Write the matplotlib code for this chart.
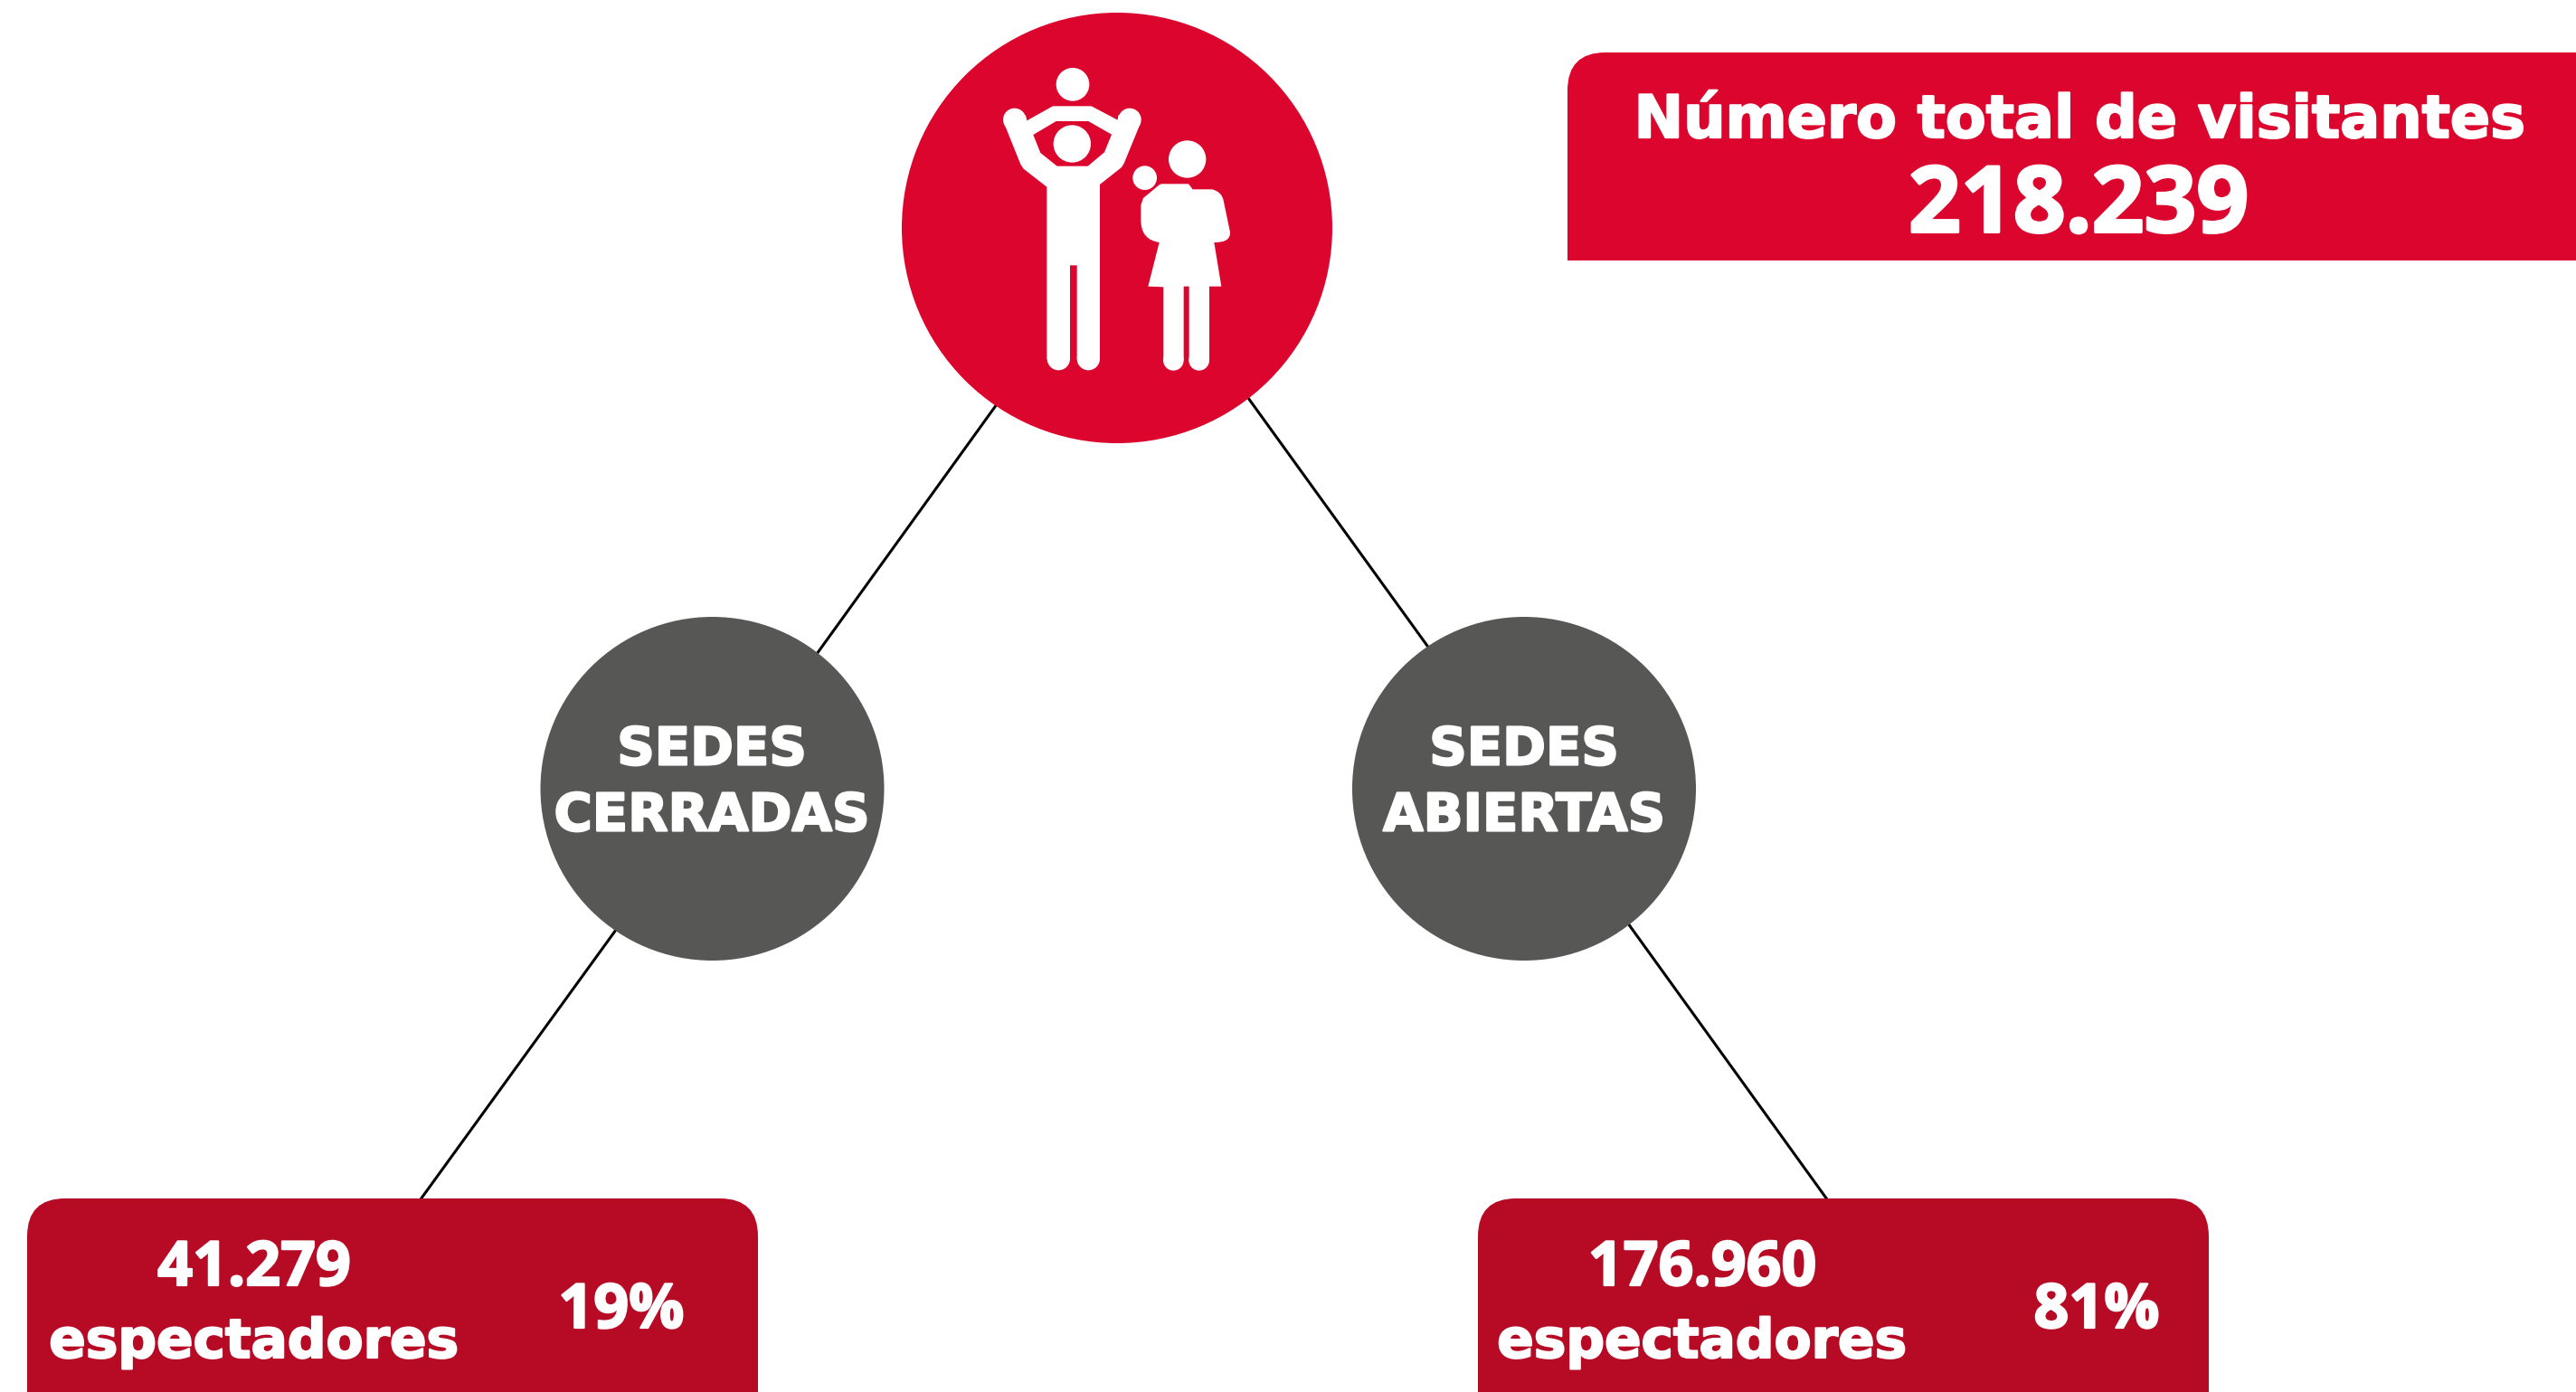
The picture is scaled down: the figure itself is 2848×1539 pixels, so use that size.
import matplotlib
matplotlib.use('Agg')
import matplotlib.pyplot as plt
import matplotlib.patheffects as pe
from matplotlib.patches import Circle, PathPatch, Polygon
from matplotlib.path import Path

RED = '#dc052d'
DARK_RED = '#b70a24'
GREY = '#575756'

header_label = 'Número total de visitantes'
header_value = '218.239'
closed_name = ['SEDES', 'CERRADAS']
open_name = ['SEDES', 'ABIERTAS']
closed_value = '41.279'
open_value = '176.960'
unit_label = 'espectadores'
closed_share = '19%'
open_share = '81%'

fig = plt.figure(figsize=(28.48, 15.39), dpi=100)
ax = fig.add_axes([0, 0, 1, 1])
ax.set_xlim(0, 2848)
ax.set_ylim(1539, 0)
ax.axis('off')


def box(x0, x1, y0, y1, r, color, right_round=True):
    # only the top corners are rounded
    verts = [(x0, y1), (x0, y0 + r), (x0, y0), (x0 + r, y0)]
    codes = [Path.MOVETO, Path.LINETO, Path.CURVE3, Path.CURVE3]
    if right_round:
        verts += [(x1 - r, y0), (x1, y0), (x1, y0 + r)]
        codes += [Path.LINETO, Path.CURVE3, Path.CURVE3]
    else:
        verts += [(x1, y0)]
        codes += [Path.LINETO]
    verts += [(x1, y1), (x0, y1)]
    codes += [Path.LINETO, Path.CLOSEPOLY]
    ax.add_patch(PathPatch(Path(verts, codes), fc=color, ec='none', zorder=3))


def label(x, y, s, size, font='DejaVu Sans', stroke=1.6):
    ax.text(x, y, s, color='white', fontsize=size, fontweight='bold', family=font,
            ha='center', va='center_baseline', zorder=5,
            path_effects=[pe.withStroke(linewidth=stroke, foreground='white')])


# connectors
for a, b in [((1102, 447), (903, 723)), ((1380, 440), (1578, 714)),
             ((681, 1028), (465, 1326)), ((1800, 1021), (2020, 1326))]:
    ax.plot([a[0], b[0]], [a[1], b[1]], color='black', lw=2.2, zorder=1)

# circles
ax.add_patch(Circle((1235, 252), 238, fc=RED, ec='none', zorder=2))
ax.add_patch(Circle((787.5, 872), 190, fc=GREY, ec='none', zorder=2))
ax.add_patch(Circle((1685, 872), 190, fc=GREY, ec='none', zorder=2))

# boxes
box(1733, 2849, 58, 288, 42, RED, right_round=False)
box(30, 838, 1325, 1540, 42, DARK_RED)
box(1634, 2442, 1325, 1540, 42, DARK_RED)


# icon, traced in crop coordinates
def ic(p):
    return (1060 + p[0] / 3, 50 + p[1] / 3)


def dot(x, y, r, color='white'):
    ax.add_patch(Circle(ic((x, y)), r / 3, fc=color, ec='none', zorder=4))


man = [(150, 258), (205, 395), (215, 410), (292, 470), (292, 1040), (369, 1040), (369, 730),
       (392, 730), (392, 1040), (468, 1040), (468, 462), (540, 405), (548, 392), (603, 258),
       (529, 232), (527, 248), (440, 202), (312, 202), (226, 250), (222, 232)]
hole = [(323, 252), (430, 252), (507, 296), (483, 355), (428, 401), (326, 401), (271, 357), (247, 297)]
ax.add_patch(Polygon([ic(p) for p in man], fc='white', ec='none', zorder=4))
ax.add_patch(Polygon([ic(p) for p in hole], fc=RED, ec='none', zorder=4))
for x, y, r in [(378, 130, 55), (376, 327, 62), (185, 247, 38), (567, 247, 38), (331, 1040, 38), (430, 1040, 38),
                (758, 378, 62), (617, 440, 40), (712, 1045, 34), (797, 1045, 34)]:
    dot(x, y, r)

woman = [(672, 460), (762, 460), (776, 478), (840, 478), (872, 485), (878, 515), (900, 620), (902, 654), (850, 654),
         (847, 654), (871, 800), (831, 800), (831, 1045), (764, 1045), (764, 800), (746, 800), (746, 1045),
         (679, 1045), (679, 802), (628, 800), (665, 654), (604, 645), (604, 580), (604, 530), (612, 507), (665, 463),
         (672, 460)]
woman_codes = [Path.MOVETO, Path.LINETO, Path.LINETO, Path.LINETO, Path.CURVE3, Path.CURVE3, Path.LINETO, Path.CURVE3,
               Path.CURVE3, Path.LINETO, Path.LINETO, Path.LINETO, Path.LINETO, Path.LINETO, Path.LINETO, Path.LINETO,
               Path.LINETO, Path.LINETO, Path.LINETO, Path.LINETO, Path.LINETO, Path.CURVE3, Path.CURVE3, Path.LINETO,
               Path.LINETO, Path.LINETO, Path.CLOSEPOLY]
ax.add_patch(PathPatch(Path([ic(p) for p in woman], woman_codes), fc='white', ec='none', zorder=4))

# texts
label(2299, 127, header_label, 47)
label(2298, 218, header_value, 73, 'Open Sans', 2.2)

label(787, 823, closed_name[0], 41.5)
label(787, 896, closed_name[1], 41.5)
label(1685, 823, open_name[0], 41.5)
label(1685, 896, open_name[1], 41.5)

label(281, 1395, closed_value, 49, 'Open Sans')
label(281, 1478, unit_label, 43)
label(687, 1442, closed_share, 49, 'Open Sans')
label(1882, 1395, open_value, 49, 'Open Sans')
label(1882, 1478, unit_label, 43)
label(2318, 1442, open_share, 49, 'Open Sans')

fig.savefig('out.png', dpi=100, facecolor='white')
